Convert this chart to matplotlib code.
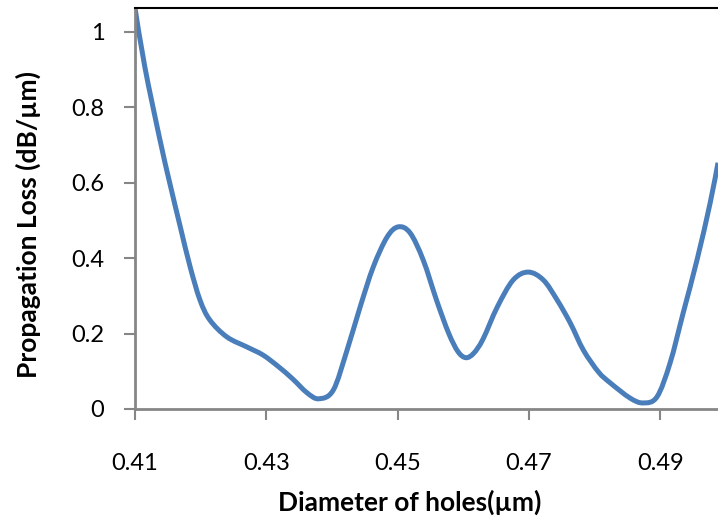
#! /usr/bin/env python3
import matplotlib
matplotlib.use('Agg')
import matplotlib.pyplot as plt
from matplotlib.path import Path
from matplotlib.patches import PathPatch
import numpy as np

plt.rcParams['font.family'] = ['Lato', 'DejaVu Sans']

# diameter of holes (um) vs propagation loss (dB/um)
diameter = [0.4100, 0.4115, 0.4138, 0.4153, 0.4169, 0.4184, 0.4199, 0.4214,
            0.4240, 0.4271, 0.4295, 0.4318, 0.4340, 0.4362, 0.4380, 0.4402,
            0.4423, 0.4443, 0.4463, 0.4484, 0.4501, 0.4519, 0.4539, 0.4560,
            0.4578, 0.4592, 0.4604, 0.4616, 0.4630, 0.4652, 0.4676, 0.4699,
            0.4722, 0.4743, 0.4763, 0.4783, 0.4806, 0.4824, 0.4854, 0.4874,
            0.4895, 0.4915, 0.4935, 0.4956, 0.4976, 0.4988]
loss = [1.064, 0.907, 0.714, 0.599, 0.483, 0.377, 0.289, 0.236,
        0.191, 0.164, 0.143, 0.113, 0.080, 0.043, 0.027, 0.050,
        0.156, 0.271, 0.377, 0.456, 0.483, 0.467, 0.395, 0.285,
        0.200, 0.152, 0.136, 0.148, 0.185, 0.271, 0.342, 0.363,
        0.342, 0.289, 0.228, 0.156, 0.098, 0.069, 0.029, 0.016,
        0.032, 0.122, 0.255, 0.395, 0.546, 0.653]

x_ticks = [0.41, 0.43, 0.45, 0.47, 0.49]
y_ticks = [0, 0.2, 0.4, 0.6, 0.8, 1.0]
y_labels = ['0', '0.2', '0.4', '0.6', '0.8', '1']

AXIS_GRAY = '#868686'
LINE_BLUE = '#4a7ebb'


def smooth_path(xs, ys):
    # Excel-like smoothed line: Catmull-Rom segments as cubic Beziers
    pts = np.column_stack([xs, ys])
    n = len(pts)
    verts = [pts[0]]
    codes = [Path.MOVETO]
    for i in range(n - 1):
        p0 = pts[max(i - 1, 0)]
        p1 = pts[i]
        p2 = pts[i + 1]
        p3 = pts[min(i + 2, n - 1)]
        c1 = p1 + (p2 - p0) / 6.0
        c2 = p2 - (p3 - p1) / 6.0
        verts += [c1, c2, p2]
        codes += [Path.CURVE4] * 3
    return Path(verts, codes)


fig = plt.figure(figsize=(7.18, 5.19), dpi=100)
ax = fig.add_axes([0.188, 0.212, 0.812, 0.773])

patch = PathPatch(smooth_path(diameter, loss), facecolor='none',
                  edgecolor=LINE_BLUE, linewidth=3.6, capstyle='butt',
                  joinstyle='round', transform=ax.transData)
ax.add_patch(patch)

ax.set_xlim(0.41, 0.4988)
ax.set_ylim(0, 1.064)

ax.set_xticks(x_ticks)
ax.set_xticklabels([f'{t:.2f}' for t in x_ticks])
ax.set_yticks(y_ticks)
ax.set_yticklabels(y_labels)

ax.tick_params(axis='x', direction='out', length=8, width=1.5,
               color=AXIS_GRAY, pad=24, labelsize=17)
ax.tick_params(axis='y', direction='out', length=8, width=1.5,
               color=AXIS_GRAY, pad=14, labelsize=17)

for side in ['left', 'bottom']:
    ax.spines[side].set_color(AXIS_GRAY)
    ax.spines[side].set_linewidth(2)
ax.spines['right'].set_visible(False)
ax.spines['top'].set_color('black')
ax.spines['top'].set_linewidth(1.5)

ax.set_xlabel('Diameter of holes(µm)', fontsize=19, fontweight='bold',
              va='center', ha='center')
ax.set_ylabel('Propagation Loss (dB/µm)', fontsize=19, fontweight='bold',
              va='center', ha='center')
ax.xaxis.set_label_coords(0.4717, -0.232)
ax.yaxis.set_label_coords(-0.1835, 0.459)

fig.savefig('out.png', dpi=100)
